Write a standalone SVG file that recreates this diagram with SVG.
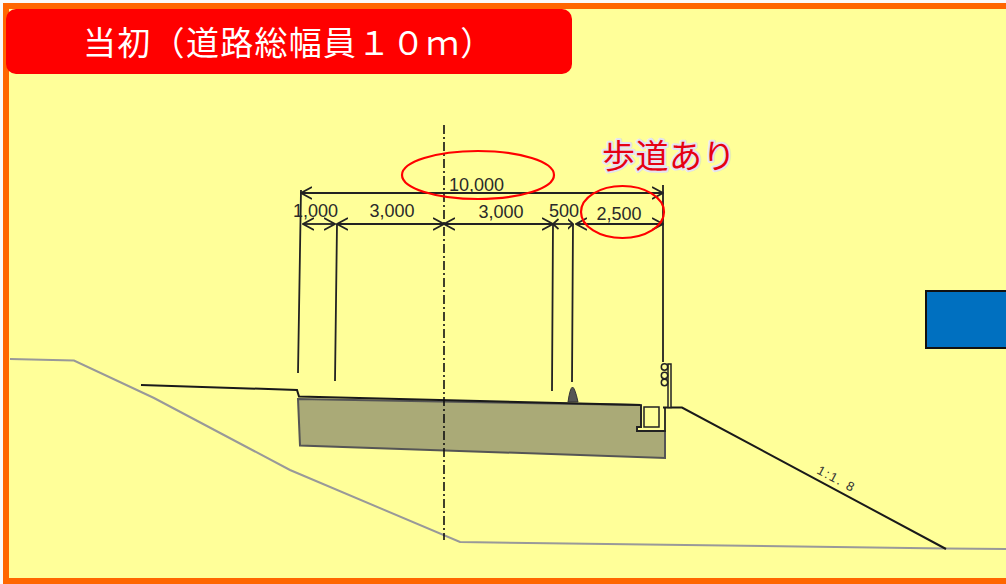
<svg xmlns="http://www.w3.org/2000/svg" width="1006" height="584" viewBox="0 0 1006 584">
<style>
.dim{stroke:#222;stroke-width:1.8;fill:none}
.ln{stroke:#1a1a1a;stroke-width:2;fill:none}
.gr{stroke:#999;stroke-width:2;fill:none}
.t{font-family:"Liberation Sans",Arial,sans-serif;font-size:18px;fill:#2a2a2a;text-anchor:middle}
.oval{stroke:#f00;stroke-width:2.200;fill:none}
.orange{fill:#ff6600}
.thin{fill:#ffff99;stroke:#222;stroke-width:1.500}
</style>
<defs>
<marker id="a" viewBox="0 0 12 14" refX="11" refY="7" markerWidth="12" markerHeight="14" markerUnits="userSpaceOnUse" orient="auto-start-reverse"><path d="M0 1L11 7L0 13" fill="none" stroke="#222" stroke-width="1.700"/></marker>
<marker id="b" viewBox="0 0 6 12" refX="5.500" refY="6" markerWidth="6" markerHeight="12" markerUnits="userSpaceOnUse" orient="auto-start-reverse"><path d="M0 1L5.500 6L0 11" fill="none" stroke="#222" stroke-width="1.700"/></marker>
</defs>
<rect width="1006" height="584" fill="#fafafa"/>
<rect x="3" y="3" width="1003" height="581" class="orange"/>
<rect x="9" y="9" width="997" height="569" fill="#ffff99"/>
<rect x="8" y="124" width="1" height="428" class="orange"/>
<g id="title"><rect x="6" y="9" width="566" height="65" rx="10" fill="#f00"/>
<text x="83" y="55" font-size="33" letter-spacing="1.300" fill="#fff" font-family="'Noto Sans CJK JP',sans-serif">当初（道路総幅員１０ｍ）</text></g>
<g id="ground">
<polyline class="gr" points="10,359 74,360.500 154,398 290,470 460,542 946,548.500 1006,549"/>
</g>
<g id="road">
<path d="M298 399L641 405V427H637V431H665V458L300 445.500Z" fill="#aaaa77" stroke="#555" stroke-width="2"/>
<rect class="thin" x="644" y="407" width="15" height="20"/>
<path d="M641 405V427H637V431H665V407" fill="none" stroke="#222" stroke-width="1.800"/>
<polyline class="ln" points="141,385 297,390 299,396.500 640.500,405"/>
<polyline class="ln" points="663,407.500 682,407.500 946,549"/>
<path d="M568 402Q570 388 572.500 387Q575 388 578 402Z" fill="#555" stroke="#333"/>
</g>
<g id="fence">
<rect class="thin" x="668" y="364" width="3" height="43.500"/>
<circle class="thin" cx="664.500" cy="367" r="3.200"/>
<circle class="thin" cx="664.500" cy="375.500" r="3.200"/>
<circle class="thin" cx="664.500" cy="382.500" r="3.200"/>
</g>
<g id="connectors">
<path d="M444 125V540" stroke="#111" stroke-width="1.600" stroke-dasharray="9 3 2 3" fill="none"/>
<path class="dim" d="M301 190L298 373M337 224L335 381M553 224L552 391M573 224L572 382M663 185V362"/>
<line class="dim" x1="301" y1="193" x2="663" y2="193" marker-start="url(#a)" marker-end="url(#a)"/>
<line class="dim" x1="303" y1="224" x2="335" y2="224" marker-start="url(#a)" marker-end="url(#a)"/>
<line class="dim" x1="337" y1="224" x2="444" y2="224" marker-start="url(#a)" marker-end="url(#a)"/>
<line class="dim" x1="444" y1="224" x2="553" y2="224" marker-start="url(#a)" marker-end="url(#a)"/>
<line class="dim" x1="553" y1="224" x2="573" y2="224" marker-start="url(#b)" marker-end="url(#b)"/>
<line class="dim" x1="576" y1="224" x2="663" y2="224" marker-start="url(#a)" marker-end="url(#a)"/>
</g>
<g id="labels">
<text class="t" x="476.500" y="191">10,000</text>
<text class="t" x="315.500" y="216.500">1,000</text>
<text class="t" x="392" y="217">3,000</text>
<text class="t" x="501" y="218">3,000</text>
<text class="t" x="564" y="217">500</text>
<text class="t" x="619" y="220">2,500</text>
<text x="602" y="168" font-size="33" letter-spacing="0.500" fill="#e60012" stroke="#e4e4f0" stroke-width="4" stroke-linejoin="round" paint-order="stroke" font-family="'Noto Sans CJK JP',sans-serif">歩道あり</text>
<text x="0" y="0" font-size="13" fill="#333" font-family="'Liberation Sans',Arial,sans-serif" transform="translate(816 473) rotate(28)" letter-spacing="1.500">1:1. 8</text>
</g>
<g id="ovals">
<ellipse class="oval" cx="478" cy="175" rx="76" ry="24"/>
<ellipse class="oval" cx="622.500" cy="212" rx="41.500" ry="26"/>
</g>
<g id="blue-box"><rect x="926" y="291" width="90" height="57" fill="#0070c0" stroke="#111" stroke-width="2"/></g>
</svg>
